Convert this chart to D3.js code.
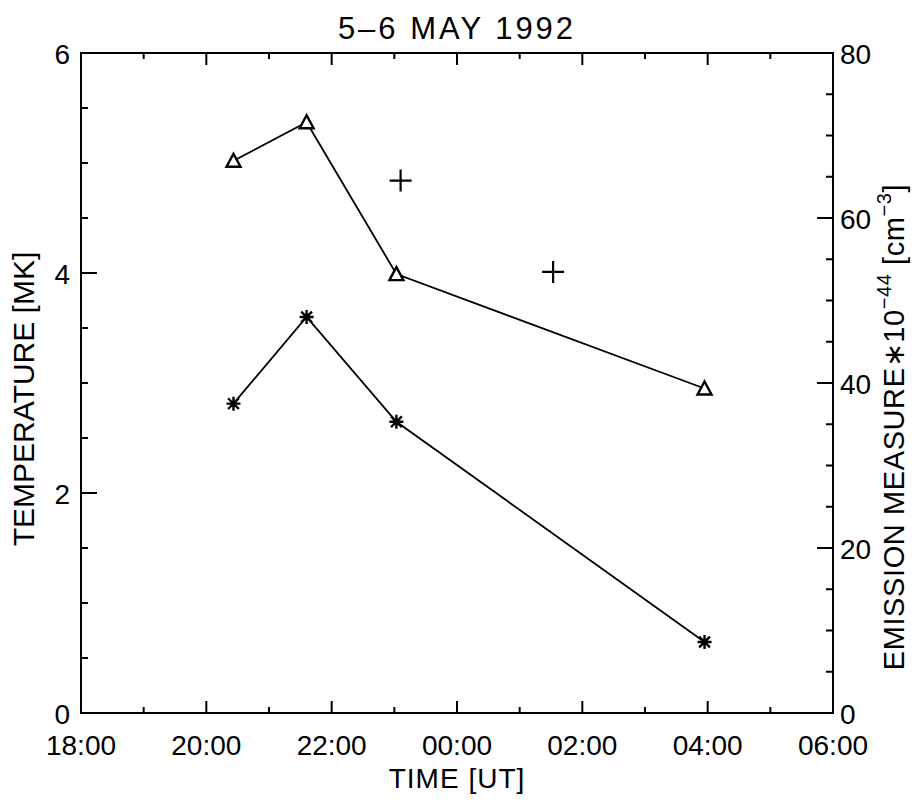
<!DOCTYPE html>
<html>
<head>
<meta charset="utf-8">
<script src="https://cdn.jsdelivr.net/npm/d3@7"></script>
<style>
  html,body{margin:0;padding:0;background:#fff;}
  svg text{font-family:"Liberation Sans",Arial,sans-serif;fill:#000;}
</style>
</head>
<body>
<div id="chart"></div>
<script>
/* 5-6 May 1992: temperature (left axis) and emission measure (right axis) vs UT. */
var triTimes=["1992-05-05T20:26Z","1992-05-05T21:36Z","1992-05-05T23:02Z","1992-05-06T03:57Z"];
var triTemp=[5.02,5.37,3.99,2.95];
var starTimes=["1992-05-05T20:26Z","1992-05-05T21:36Z","1992-05-05T23:02Z","1992-05-06T03:57Z"];
var starEM=[37.5,48.0,35.3,8.6];
var plusTimes=["1992-05-05T23:06Z","1992-05-06T01:32Z"];
var plusTemp=[4.84,4.01];
var tempTicks=[0,2,4,6];
var emTicks=[0,20,40,60,80];

var W=914,H=802;
var m={l:81,r:833,t:53,b:713};
var svg=d3.select("#chart").append("svg").attr("width",W).attr("height",H);

var x=d3.scaleUtc().domain([new Date("1992-05-05T18:00Z"),new Date("1992-05-06T06:00Z")]).range([m.l,m.r]);
var yT=d3.scaleLinear().domain([0,6]).range([m.b,m.t]);
var yE=d3.scaleLinear().domain([0,80]).range([m.b,m.t]);

function tri(t,v){return t.map(function(d,i){return {t:new Date(d),v:v[i]};});}
var triData=tri(triTimes,triTemp), starData=tri(starTimes,starEM), plusData=tri(plusTimes,plusTemp);

var ax=svg.append("g").attr("stroke","#000").attr("stroke-width",2).attr("fill","none");
ax.append("rect").attr("x",m.l).attr("y",m.t).attr("width",m.r-m.l).attr("height",m.b-m.t);

// x ticks, every hour (major every 2h)
x.ticks(d3.utcHour.every(1)).forEach(function(d){
  var major=d.getUTCHours()%2===0, len=major?12:6, px=x(d);
  ax.append("line").attr("x1",px).attr("x2",px).attr("y1",m.b).attr("y2",m.b-len);
  ax.append("line").attr("x1",px).attr("x2",px).attr("y1",m.t).attr("y2",m.t+len);
});
// left ticks every 0.5
d3.range(0,6.01,0.5).forEach(function(v){
  var len=(v%2===0)?16:7;
  ax.append("line").attr("x1",m.l).attr("x2",m.l+len).attr("y1",yT(v)).attr("y2",yT(v));
});
// right ticks every 5
d3.range(0,80.1,5).forEach(function(v){
  var len=(v%20===0)?16:7;
  ax.append("line").attr("x1",m.r).attr("x2",m.r-len).attr("y1",yE(v)).attr("y2",yE(v));
});

var fs=28;
svg.append("g").selectAll("text").data(x.ticks(d3.utcHour.every(2))).enter().append("text")
  .attr("x",function(d){return x(d);}).attr("y",755).attr("text-anchor","middle").attr("font-size",fs)
  .text(d3.utcFormat("%H:%M"));
svg.append("g").selectAll("text").data(tempTicks).enter().append("text")
  .attr("x",70).attr("y",function(d){return yT(d)+4;}).attr("text-anchor","end").attr("dominant-baseline","middle").attr("font-size",fs)
  .text(function(d){return d;});
svg.append("g").selectAll("text").data(emTicks).enter().append("text")
  .attr("x",840).attr("y",function(d){return yE(d)+4;}).attr("text-anchor","start").attr("dominant-baseline","middle").attr("font-size",fs)
  .text(function(d){return d;});

svg.append("text").attr("x",457).attr("y",39).attr("text-anchor","middle").attr("font-size",31)
  .attr("letter-spacing",3).text("5\u20136 MAY 1992");
svg.append("text").attr("x",457).attr("y",788).attr("text-anchor","middle").attr("font-size",fs)
  .attr("letter-spacing",1).text("TIME [UT]");
svg.append("text").attr("transform","translate(34,399) rotate(-90)").attr("text-anchor","middle").attr("font-size",30)
  .text("TEMPERATURE [MK]");
var em=svg.append("text").attr("transform","translate(904,427) rotate(-90)").attr("text-anchor","middle").attr("font-size",29)
  .attr("letter-spacing",0.6);
em.append("tspan").text("EMISSION MEASURE\u221710");
em.append("tspan").attr("dy",-13).attr("font-size",20).text("\u221244");
em.append("tspan").attr("dy",13).text(" [cm");
em.append("tspan").attr("dy",-13).attr("font-size",20).text("\u22123");
em.append("tspan").attr("dy",13).text("]");

var lineT=d3.line().x(function(d){return x(d.t);}).y(function(d){return yT(d.v);});
var lineE=d3.line().x(function(d){return x(d.t);}).y(function(d){return yE(d.v);});
var plot=svg.append("g").attr("stroke","#000").attr("fill","none").attr("stroke-width",1.8);
plot.append("path").attr("d",lineT(triData));
plot.append("path").attr("d",lineE(starData));

plot.selectAll("path.tri").data(triData).enter().append("path").attr("class","tri").attr("stroke-width",2.4)
  .attr("fill","#fff")
  .attr("d",function(d){var px=x(d.t),py=yT(d.v);return "M"+px+","+(py-7)+"L"+(px+7)+","+(py+6)+"L"+(px-7)+","+(py+6)+"Z";});
plot.selectAll("path.star").data(starData).enter().append("path").attr("class","star").attr("stroke-width",2.4)
  .attr("d",function(d){var px=x(d.t),py=yE(d.v),r=7,q=5.4;
    return "M"+(px-r)+","+py+"H"+(px+r)+"M"+px+","+(py-r)+"V"+(py+r)+
      "M"+(px-q)+","+(py-q)+"L"+(px+q)+","+(py+q)+"M"+(px-q)+","+(py+q)+"L"+(px+q)+","+(py-q);});
plot.selectAll("path.plus").data(plusData).enter().append("path").attr("class","plus").attr("stroke-width",2.2)
  .attr("d",function(d){var px=x(d.t),py=yT(d.v),r=11;
    return "M"+(px-r)+","+py+"H"+(px+r)+"M"+px+","+(py-r)+"V"+(py+r);});
</script>
</body>
</html>
